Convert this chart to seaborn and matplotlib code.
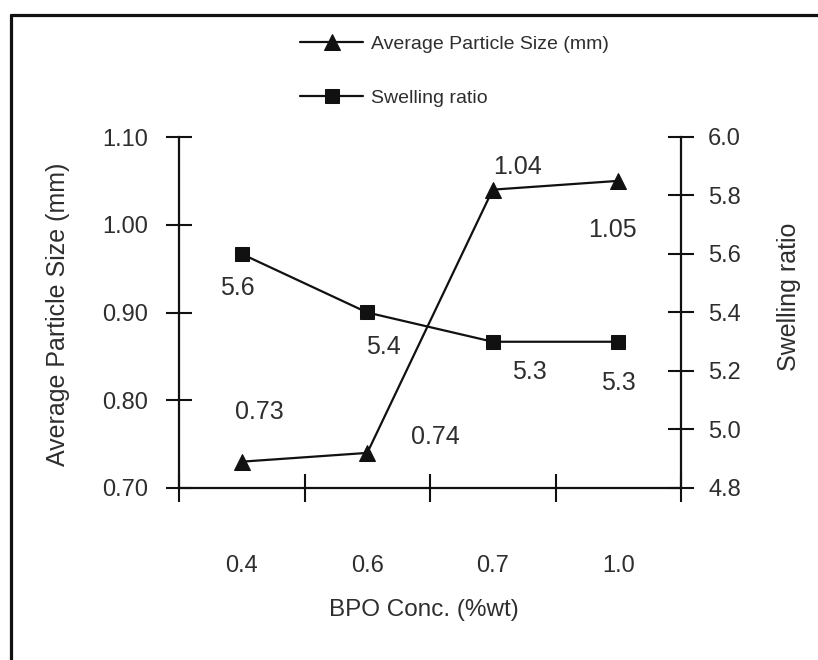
import matplotlib
matplotlib.use("Agg")
import matplotlib.pyplot as plt
from matplotlib import font_manager
from matplotlib.lines import Line2D
from matplotlib.ticker import FixedLocator, NullFormatter, FixedFormatter
import numpy as np
import pandas as pd
import seaborn as sns

# ---------------- data ----------------
categories = ["0.4", "0.6", "0.7", "1.0"]
particle_size = [0.73, 0.74, 1.04, 1.05]
swelling_ratio = [5.6, 5.4, 5.3, 5.3]
left_ticks = [0.70, 0.80, 0.90, 1.00, 1.10]
right_ticks = [4.8, 5.0, 5.2, 5.4, 5.6, 5.8, 6.0]

size_label = "Average Particle Size (mm)"
swell_label = "Swelling ratio"
x_label = "BPO Conc. (%wt)"

# ---------------- style ----------------
sns.set_theme(style="ticks")
names = {f.name for f in font_manager.fontManager.ttflist}
BASE = "Liberation Sans" if "Liberation Sans" in names else "DejaVu Sans"
NARROW = "Liberation Sans Narrow" if "Liberation Sans Narrow" in names else None
plt.rcParams["font.family"] = [BASE, "DejaVu Sans"]
TXT = "#2e2e2e"
LINE = "#111111"

W, H = 818, 660
fig = plt.figure(figsize=(W / 100, H / 100), dpi=100)
fig.patch.set_facecolor("white")
ax = fig.add_axes([179 / W, 1 - 488 / H, (681 - 179) / W, (488 - 137) / H])
ax.set_facecolor("none")

df = pd.DataFrame({
    "pos": np.arange(len(categories)),
    "BPO": categories,
    "size": particle_size,
    "swell": swelling_ratio,
})

sns.lineplot(data=df, x="pos", y="size", ax=ax, color=LINE, linewidth=1.6,
             marker="^", markersize=11, markeredgecolor=LINE, markerfacecolor=LINE,
             label=size_label, legend=False)
ax2 = ax.twinx()
sns.lineplot(data=df, x="pos", y="swell", ax=ax2, color=LINE, linewidth=1.6,
             marker="s", markersize=10, markeredgecolor=LINE, markerfacecolor=LINE,
             label=swell_label, legend=False)

ax.set_xlim(-0.5, len(categories) - 0.5)
ax.set_ylim(left_ticks[0], left_ticks[-1])
ax2.set_ylim(right_ticks[0], right_ticks[-1])

# spines
for s in ["top", "right"]:
    ax.spines[s].set_visible(False)
for s in ["top", "left", "bottom"]:
    ax2.spines[s].set_visible(False)
ax.spines["left"].set_linewidth(1.6)
ax.spines["bottom"].set_linewidth(1.6)
ax2.spines["right"].set_linewidth(1.6)
for sp in list(ax.spines.values()) + list(ax2.spines.values()):
    sp.set_color(LINE)

# y ticks
ax.set_yticks(left_ticks)
ax.set_yticklabels([f"{v:.2f}" for v in left_ticks])
ax.tick_params(axis="y", direction="inout", length=19, width=1.5, pad=13,
               labelsize=17, labelcolor=TXT, color=LINE)
ax2.set_yticks(right_ticks)
ax2.set_yticklabels([f"{v:.1f}" for v in right_ticks])
ax2.tick_params(axis="y", direction="inout", length=19, width=1.5, pad=10,
                labelsize=17, labelcolor=TXT, color=LINE)

# x ticks: boundaries (major, unlabeled) and category centers (minor, labeled)
bounds = np.arange(len(categories) + 1) - 0.5
ax.xaxis.set_major_locator(FixedLocator(bounds))
ax.xaxis.set_major_formatter(NullFormatter())
ax.xaxis.set_minor_locator(FixedLocator(df["pos"].tolist()))
ax.xaxis.set_minor_formatter(FixedFormatter(categories))
ax.tick_params(axis="x", which="major", direction="inout", length=20, width=1.5, color=LINE)
ax.tick_params(axis="x", which="minor", length=0, pad=48, labelsize=17, labelcolor=TXT)

# axis labels
ax.set_xlabel(x_label, fontsize=17.5, color=TXT)
ax.xaxis.set_label_coords(0.488, -0.3476)
ax.xaxis.label.set_va("center")
ax.set_ylabel(size_label, fontsize=18, color=TXT)
ax.yaxis.set_label_coords(-0.241, 0.496)
ax.yaxis.label.set_va("center")
ax2.set_ylabel(swell_label, fontsize=18, color=TXT, rotation=90)
ax2.yaxis.set_label_coords(1.215, 0.544)
ax2.yaxis.label.set_va("center")
ax2.yaxis.label.set_ha("center")

# value labels (offsets in pixels)
size_offsets = [(18, 50), (68, 16), (25, 23), (-6, -49)]
swell_offsets = [(-4, -34), (16, -35), (37, -30), (0, -41)]
for xi, v, off in zip(df["pos"], particle_size, size_offsets):
    ax.annotate(f"{v:.2f}", (xi, v), xytext=off, textcoords="offset pixels",
                ha="center", va="center", fontsize=18, color=TXT)
for xi, v, off in zip(df["pos"], swelling_ratio, swell_offsets):
    ax2.annotate(f"{v:.1f}", (xi, v), xytext=off, textcoords="offset pixels",
                 ha="center", va="center", fontsize=18, color=TXT)

# legend
if NARROW:
    leg_prop = {"family": [NARROW, BASE], "size": 17}
    leg_kw = dict(handlelength=2.67, handletextpad=0.34, labelspacing=1.13)
    leg_top = 28
else:
    leg_prop = {"family": [BASE], "size": 14}
    leg_kw = dict(handlelength=3.24, handletextpad=0.42, labelspacing=1.88)
    leg_top = 35
handles = [ax.get_lines()[0], ax2.get_lines()[0]]
fig.legend(handles, [size_label, swell_label], loc="upper left",
           bbox_to_anchor=(300 / W, 1 - leg_top / H), bbox_transform=fig.transFigure,
           frameon=False, borderpad=0, borderaxespad=0, prop=leg_prop,
           labelcolor=TXT, **leg_kw)

# scanned frame border
fig.add_artist(Line2D([11 / W, 1.0], [1 - 15 / H, 1 - 15 / H], transform=fig.transFigure,
                      color=LINE, linewidth=2.3))
fig.add_artist(Line2D([11 / W, 11 / W], [0.0, 1 - 15 / H], transform=fig.transFigure,
                      color=LINE, linewidth=2.3))

fig.savefig("out.png", dpi=100, facecolor="white")
